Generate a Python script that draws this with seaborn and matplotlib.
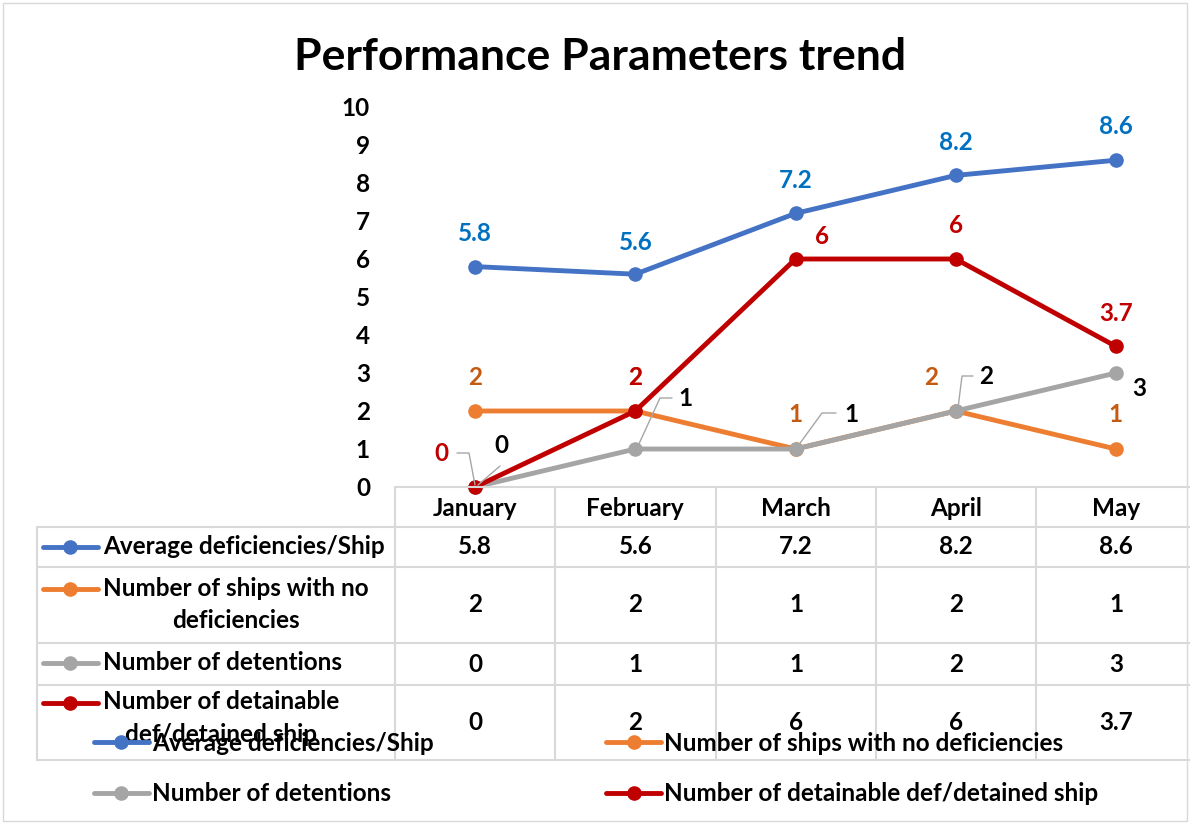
import numpy as np
import pandas as pd
import seaborn as sns
import matplotlib.pyplot as plt
from matplotlib.lines import Line2D
from matplotlib.patches import Rectangle

months = ['January', 'February', 'March', 'April', 'May']
series_names = ['Average deficiencies/Ship',
                'Number of ships with no deficiencies',
                'Number of detentions',
                'Number of detainable def/detained ship']
row_labels = ['Average deficiencies/Ship',
              'Number of ships with no\ndeficiencies',
              'Number of detentions',
              'Number of detainable\ndef/detained ship']
avg_def = [5.8, 5.6, 7.2, 8.2, 8.6]
no_def = [2, 2, 1, 2, 1]
detentions = [0, 1, 1, 2, 3]
detainable = [0, 2, 6, 6, 3.7]
yticks = list(range(0, 11))

line_colors = ['#4472C4', '#ED7D31', '#A5A5A5', '#C00000']
label_colors = ['#0070C0', '#C55A11', '#000000', '#C00000']

all_values = [avg_def, no_def, detentions, detainable]
rows = []
for name, vals in zip(series_names, all_values):
    for i, v in enumerate(vals):
        rows.append({'series': name, 'month': i, 'value': v})
df = pd.DataFrame(rows)

sns.set_theme(style='white')
plt.rcParams['font.family'] = ['Lato', 'DejaVu Sans']
plt.rcParams['font.weight'] = 'bold'
plt.rcParams['text.color'] = 'black'
plt.rcParams['xtick.color'] = 'black'
plt.rcParams['ytick.color'] = 'black'

FS = 17.5
LW = 3.5
MS = 10.5
W, H = 1190, 824
fig = plt.figure(figsize=(W / 100, H / 100), dpi=100)


def fx(x):
    return x / W


def fy(y):
    return 1 - y / H


# plot area: x from 395 to 1196 px, y from 107 (10) to 487 (0)
ax = fig.add_axes([fx(395), fy(487), (1196 - 395) / W, (487 - 107) / H])
sns.lineplot(data=df, x='month', y='value', hue='series', palette=line_colors,
             marker='o', markersize=MS, markeredgewidth=0, linewidth=LW,
             sort=False, ax=ax, legend=True)
for ln in ax.lines:
    ln.set_clip_on(False)
handles, labels = ax.get_legend_handles_labels()
ax.get_legend().remove()

ax.set_xlim(-0.5, 4.5)
ax.set_ylim(0, 10)
ax.set_yticks(yticks)
ax.set_yticklabels([str(t) for t in yticks], fontsize=FS, fontweight='bold')
ax.set_xticks(range(len(months)))
ax.set_xticklabels(months, fontsize=FS, fontweight='bold')
ax.tick_params(axis='y', length=0, pad=18)
ax.tick_params(axis='x', length=0, pad=7)
ax.set_xlabel('')
ax.set_ylabel('')
for s in ax.spines.values():
    s.set_visible(False)
ax.patch.set_alpha(0)

# data labels (offsets in points: dx, dy)
offsets = [
    [(0, 24), (0, 23), (0, 24), (0, 24), (0, 24)],
    [(0, 24), (0, 24), (0, 25), (-18, 24), (0, 25)],
    [(19, 30), (36, 36), (40, 25), (22, 25), (17, -11)],
    [(-24, 24), (0, 24), (19, 16), (0, 24), (0, 24)],
]
for si, vals in enumerate(all_values):
    for i, v in enumerate(vals):
        dx, dy = offsets[si][i]
        ax.annotate(f'{v:g}', (i, v), xytext=(dx, dy), textcoords='offset points',
                    ha='center', va='center', fontsize=FS, fontweight='bold',
                    color=label_colors[si], annotation_clip=False, zorder=5)

# leader lines for detention labels and the January red label
lc = '#A6A6A6'


def leader(points):
    xs, ys = zip(*[(fx(a), fy(b)) for a, b in points])
    fig.add_artist(Line2D(xs, ys, color=lc, lw=1))


leader([(457, 453), (469, 453), (475, 485)])
leader([(500, 466), (478, 485)])
leader([(638, 446), (660, 398), (672, 398)])
leader([(798, 446), (822, 413), (836, 413)])
leader([(958, 408), (962, 376), (973, 376)])

# data table
grid = '#D9D9D9'
col_edges = [395, 555, 716, 876, 1036, 1196]
row_edges = [487, 527, 567, 643, 685, 760]


def hline(y, x0, x1):
    fig.add_artist(Line2D([fx(x0), fx(x1)], [fy(y), fy(y)], color=grid, lw=1.5, zorder=1))


def vline(x, y0, y1):
    fig.add_artist(Line2D([fx(x), fx(x)], [fy(y0), fy(y1)], color=grid, lw=1.5, zorder=1))


hline(487, 395, 1196)
for y in row_edges[1:]:
    hline(y, 37, 1196)
vline(37, 527, 760)
for x in col_edges:
    vline(x, 487, 760)

row_centers = [547, 605, 664, 722]
key_y = [547, 589, 663, 703]
text_y = [547, 604.5, 663, 718]
for ri, vals in enumerate(all_values):
    fig.add_artist(Line2D([fx(43), fx(98)], [fy(key_y[ri])] * 2, color=line_colors[ri],
                          lw=LW, zorder=3))
    fig.add_artist(Line2D([fx(70)], [fy(key_y[ri])], color=line_colors[ri],
                          marker='o', markersize=MS, markeredgewidth=0, zorder=3))
    fig.text(fx(103), fy(text_y[ri]), row_labels[ri], ha='left', va='center',
             multialignment='center', fontsize=FS, fontweight='bold',
             linespacing=1.5, zorder=3)
    for i, v in enumerate(vals):
        fig.text(fx((col_edges[i] + col_edges[i + 1]) / 2), fy(row_centers[ri]), f'{v:g}',
                 ha='center', va='center', fontsize=FS, fontweight='bold')

# legend, filled column-wise so reorder to read row-wise
order = [0, 2, 1, 3]
leg = fig.legend([handles[i] for i in order], [labels[i] for i in order], ncol=2,
                 loc='upper left', bbox_to_anchor=(fx(94), fy(732)), frameon=False,
                 prop={'size': FS, 'weight': 'bold'}, handlelength=2.26,
                 handletextpad=0.12, columnspacing=7.1, labelspacing=1.12,
                 borderpad=0, borderaxespad=0)
for h in leg.legend_handles:
    h.set_linewidth(LW)
    h.set_markersize(MS)

fig.suptitle('Performance Parameters trend', x=fx(600), y=fy(57), va='center',
             fontsize=32, fontweight='bold')

fig.add_artist(Rectangle((fx(3), fy(821)), fx(1184), 818 / H, fill=False,
                         edgecolor=grid, lw=1, transform=fig.transFigure))

fig.savefig('out.png', dpi=100)
